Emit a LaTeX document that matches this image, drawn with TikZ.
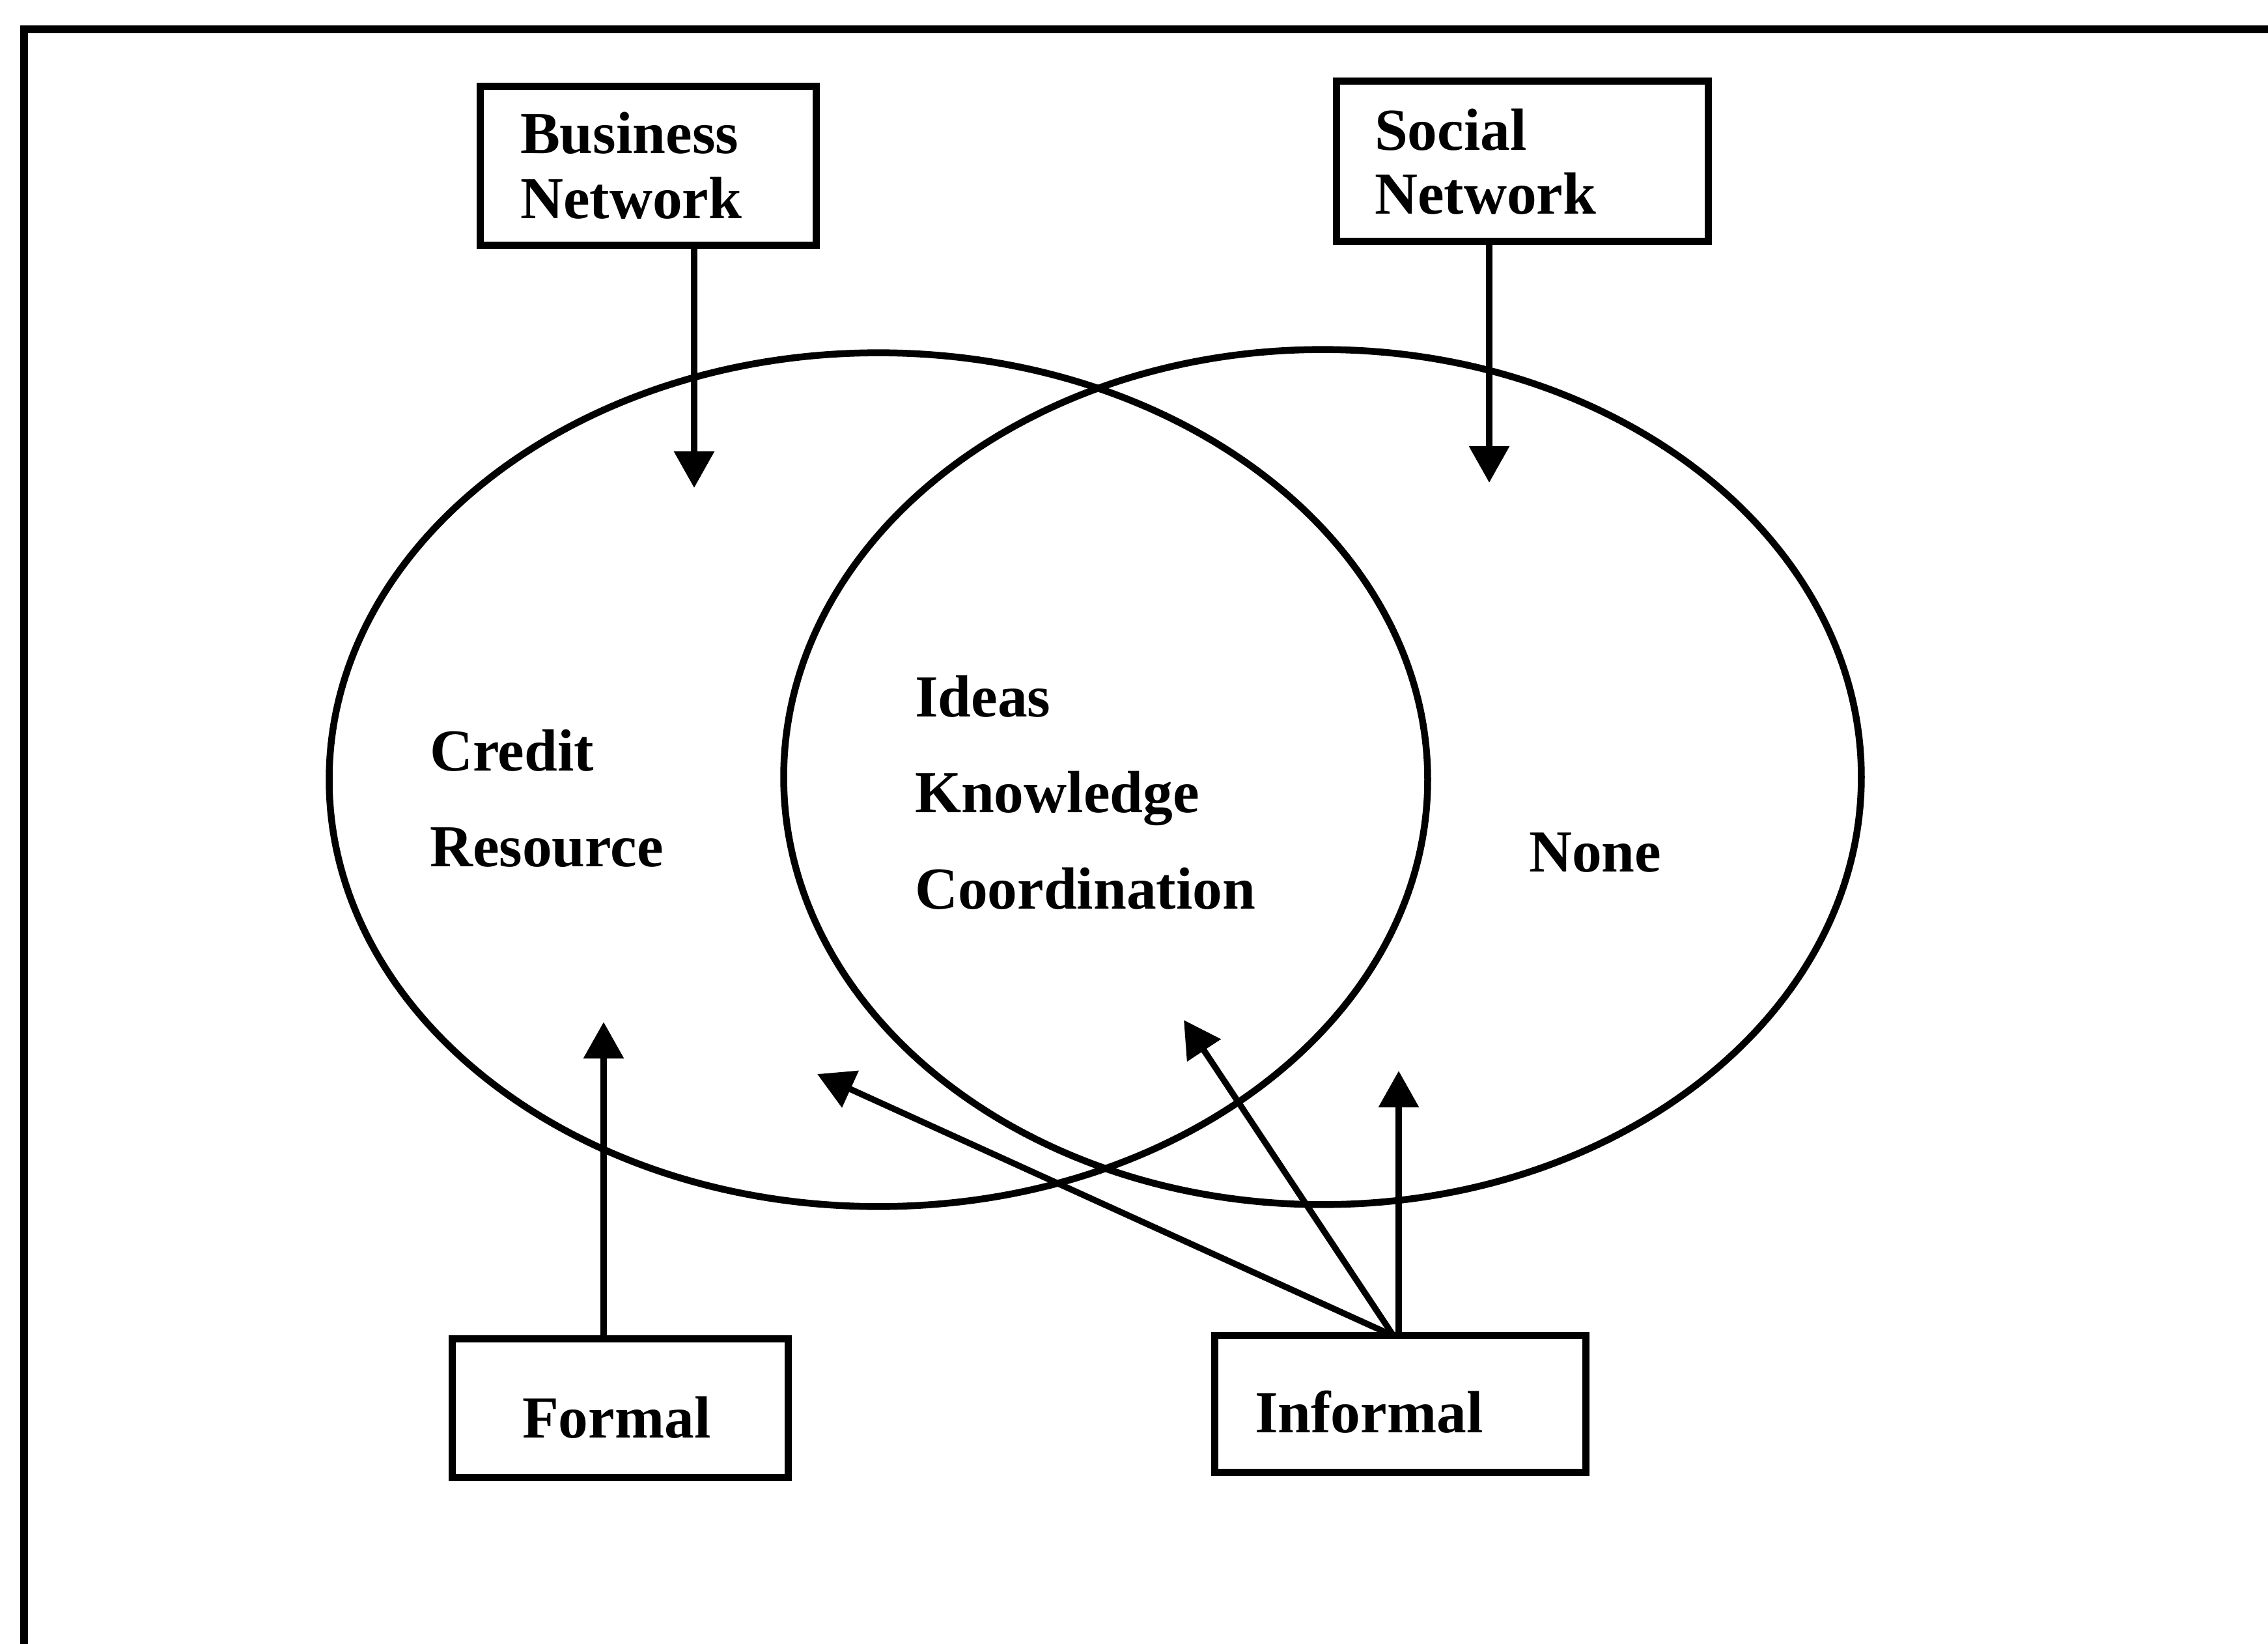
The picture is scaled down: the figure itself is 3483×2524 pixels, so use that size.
\documentclass[tikz,border=0pt]{standalone}
\usepackage{fontspec}
\setmainfont{Liberation Serif}
\usetikzlibrary{arrows.meta,shapes.geometric}
\begin{document}
\begin{tikzpicture}[x=0.01cm,y=-0.01cm,
  every node/.style={inner sep=0pt, outer sep=0pt},
  lab/.style={font=\fontsize{26}{30}\selectfont\bfseries, anchor=base west},
  netbox/.style={draw, rectangle, line width=0.11cm},
  region/.style={draw, ellipse, line width=0.105cm},
  arr/.style={line width=0.095cm, -{Triangle[length=0.56cm,width=0.6cm]}},
  frameline/.style={line width=0.12cm, line join=miter}]

\useasboundingbox (0,0) rectangle (3483,2524);

% outer frame (only top and left edges fall inside the page)
\draw[frameline] (37,2540) -- (37,45) -- (3500,45);

% the two overlapping network domains
\node[region, minimum width=16.86cm, minimum height=13.10cm] (bizset) at (1349,1197) {};
\node[region, minimum width=16.54cm, minimum height=13.12cm] (socset) at (2031,1193) {};

% network and tie boxes
\node[netbox, minimum width=5.15cm, minimum height=2.43cm] (bnet) at (995.5,254.5) {};
\node[netbox, minimum width=5.70cm, minimum height=2.45cm] (snet) at (2338,247.5) {};
\node[netbox, minimum width=5.15cm, minimum height=2.12cm] (formal) at (952.5,2162) {};
\node[netbox, minimum width=5.69cm, minimum height=2.09cm] (informal) at (2150.5,2155.5) {};

% labels
\node[lab] (bnet1) at (799,235) {Business};
\node[lab] (bnet2) at (799,335) {Network};
\node[lab] (snet1) at (2111,230) {Social};
\node[lab] (snet2) at (2111,328) {Network};
\node[lab] (credit) at (660,1183) {Credit};
\node[lab] (resource) at (660,1330) {Resource};
\node[lab] (ideas) at (1405,1100) {Ideas};
\node[lab] (knowledge) at (1405,1247) {Knowledge};
\node[lab] (coord) at (1405,1395) {Coordination};
\node[lab] (none) at (2348,1338) {None};
\node[lab] (formalt) at (802,2207) {Formal};
\node[lab] (informalt) at (1927,2199) {Informal};

% arrow end points
\coordinate (bnTip) at (1066,749);
\coordinate (snTip) at (2287,741);
\coordinate (fTip) at (927,1569);
\coordinate (iUp) at (2148,1644);
\coordinate (iMid) at (1818,1566);
\coordinate (iLeft) at (1255,1649);
\coordinate (iSrc) at (2140,2051);

% arrows
\draw[arr] (bnet.south -| bnTip) -- (bnTip);
\draw[arr] (snet.south -| snTip) -- (snTip);
\draw[arr] (formal.north -| fTip) -- (fTip);
\draw[arr] (informal.north -| iUp) -- (iUp);
\draw[arr] (iSrc) -- (iMid);
\draw[arr] (iSrc) -- (iLeft);
\end{tikzpicture}
\end{document}
